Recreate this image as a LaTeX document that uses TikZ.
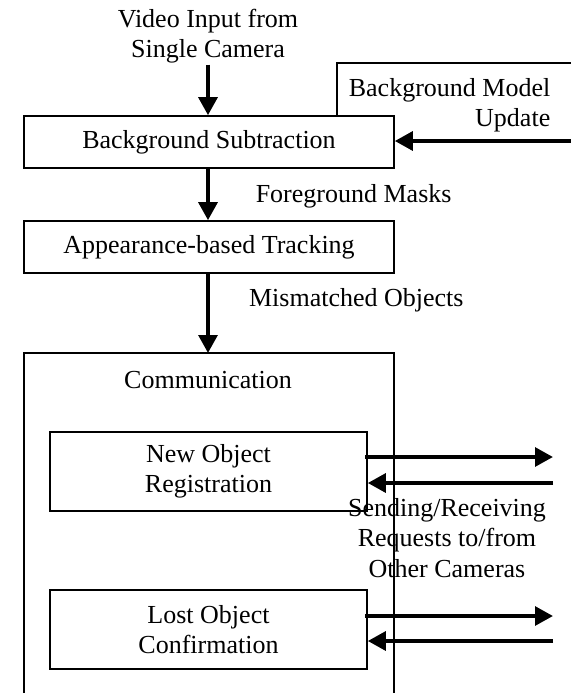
\documentclass[tikz,border=0pt]{standalone}
\usepackage{fontspec}
\setmainfont{Liberation Serif}
\usetikzlibrary{arrows.meta}

\begin{document}
\begin{tikzpicture}[x=0.75pt,y=-0.75pt,
    font=\fontsize{19.5}{22.7}\selectfont,
    >={Triangle[length=13.5pt,width=14pt]},
    flow/.style={->,line width=3pt},
    stage/.style={draw,line width=1.2pt,fill=white,inner sep=0pt,
        minimum width=277.5pt,minimum height=39pt},
    substage/.style={draw,line width=1.2pt,align=center,inner sep=0pt,
        minimum width=237.75pt,minimum height=59.25pt}]
    \useasboundingbox (0,0) rectangle (571,693);

    % background model update (partly behind the subtraction box)
    \draw[line width=1.2pt] (571,63) -- (337,63) -- (337,116);
    \node[align=right,anchor=east] (bgmodel) at (555,105)
        {Background Model\\Update};

    \node[align=center,inner sep=1pt] (video) at (208,36) {Video Input from\\Single Camera};
    \node[stage] (bgsub) at (209,142) {Background Subtraction};
    \node[stage] (tracking) at (209,247) {Appearance-based Tracking};

    % communication block, cut off at the bottom
    \draw[line width=1.2pt] (24,693) -- (24,353) -- (394,353) -- (394,693);
    \coordinate (comm) at (208,353);
    \node (commlabel) at (208,380) {Communication};
    \node[substage] (newobj) at (208.5,471.5) {New Object\\Registration};
    \node[substage] (lostobj) at (208.5,629.5) {Lost Object\\Confirmation};

    \draw[flow] (video.south -| 208,0) -- (bgsub.north -| 208,0);
    \coordinate (bgin) at (571,141);
    \draw[flow] (bgin) -- (bgsub.east |- bgin);
    \draw[flow] (bgsub.south -| 208,0) -- (tracking.north -| 208,0)
        node[midway,anchor=west,xshift=31pt,yshift=-1.5pt] {Foreground Masks};
    \draw[flow] (tracking.south -| 208,0) -- (comm)
        node[pos=0.3,anchor=west,xshift=26pt,yshift=-2pt] {Mismatched Objects};

    % requests to and from the other cameras
    \coordinate (newout) at (553,457);
    \coordinate (newin) at (553,483);
    \coordinate (lostout) at (553,616);
    \coordinate (lostin) at (553,641);
    \draw[flow,shorten <=-2pt] (newobj.east |- newout) -- (newout);
    \draw[flow] (newin) -- (newobj.east |- newin);
    \draw[flow,shorten <=-2pt] (lostobj.east |- lostout) -- (lostout);
    \draw[flow] (lostin) -- (lostobj.east |- lostin);
    \node[align=center] (requests) at (447,538)
        {Sending/Receiving\\Requests to/from\\Other Cameras};
\end{tikzpicture}
\end{document}
